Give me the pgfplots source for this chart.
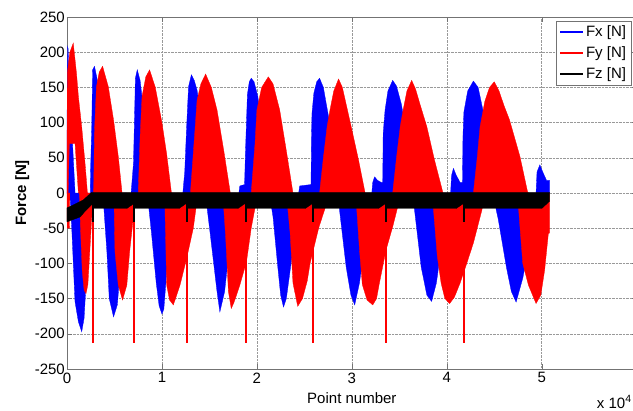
\documentclass[border=0pt]{standalone}
\usepackage{pgfplots}
\pgfplotsset{compat=1.18}
\usepackage{fontspec}
\setmainfont{Liberation Sans}
\newcommand\fs{\fontsize{15}{18}\selectfont}

\pgfplotsset{
  fx/.style={draw=blue, fill=blue, line width=0.3pt, forget plot},
  fy/.style={draw=red, fill=red, line width=0.3pt, forget plot},
}

\begin{document}
\begin{tikzpicture}
\begin{axis}[
  name=ax,
  scale only axis, width=569.7pt, height=352pt,
  xmin=0, xmax=6, ymin=-250, ymax=250,
  xtick={0,1,2,3,4,5},
  ytick={-250,-200,-150,-100,-50,0,50,100,150,200,250},
  tick align=inside, major tick length=5pt,
  grid=major, grid style={densely dotted, black!40, line width=0.6pt},
  axis line style={black!55}, every tick/.style={black!55},
  tick label style={font=\fs},
  /pgf/number format/assume math mode=true,
  yticklabel style={inner xsep=2pt},
  xlabel={Point number}, ylabel={\bfseries Force [N]},
  label style={font=\fs},
  xlabel style={yshift=-3pt},
  legend style={at={(axis cs:5.155,244.7)}, anchor=north west,
    draw=black!55, fill=white, font=\fs, inner xsep=3pt, inner ysep=3pt,
    row sep=4.5pt},
  legend cell align=left,
  legend image code/.code={\draw[#1, line width=1.4pt] (0pt,0pt) -- (23pt,0pt);},
]
% ---- Fx (blue): band between upper and lower envelope of each lobe
\addplot[fx] coordinates {(0,0) (0.002,150) (0.006,208) (0.012,205) (0.02,170) (0.035,120) (0.06,66) (0.085,0)} -- cycle;
\addplot[fx] coordinates {(0.03,0) (0.05,-50) (0.084,-154) (0.12,-183) (0.155,-197) (0.18,-178) (0.2,-130) (0.23,-60) (0.25,0)} -- cycle;
\addplot[fx] coordinates {(0.245,0) (0.25,42) (0.26,90) (0.27,175) (0.29,180) (0.32,160) (0.35,120) (0.40,60) (0.44,0)} -- cycle;
\addplot[fx] coordinates {(0.37,0) (0.38,-5) (0.42,-83) (0.445,-150) (0.49,-176) (0.53,-159) (0.56,-110) (0.60,-50) (0.63,0)} -- cycle;
\addplot[fx] coordinates {(0.675,0) (0.70,42) (0.716,137) (0.72,163) (0.74,175) (0.77,160) (0.80,125) (0.85,60) (0.90,0)} -- cycle;
\addplot[fx] coordinates {(0.85,0) (0.86,-19) (0.89,-57) (0.94,-128) (0.97,-160) (1.0,-172) (1.02,-165) (1.04,-130) (1.08,-60) (1.12,0)} -- cycle;
\addplot[fx] coordinates {(1.22,0) (1.24,30) (1.26,94) (1.28,151) (1.31,168) (1.34,160) (1.37,146) (1.42,100) (1.48,40) (1.52,0)} -- cycle;
\addplot[fx] coordinates {(1.46,0) (1.47,-15) (1.51,-60) (1.58,-140) (1.61,-169) (1.66,-140) (1.70,-90) (1.74,-40) (1.78,0)} -- cycle;
\addplot[fx] coordinates {(1.81,0) (1.82,10) (1.87,12) (1.88,60) (1.90,140) (1.92,158) (1.94,163) (1.97,158) (2.01,137) (2.06,90) (2.12,30) (2.15,0)} -- cycle;
\addplot[fx] coordinates {(2.13,0) (2.17,-34) (2.22,-105) (2.25,-145) (2.28,-162) (2.31,-150) (2.36,-100) (2.42,-40) (2.46,0)} -- cycle;
\addplot[fx] coordinates {(2.44,0) (2.45,10) (2.57,12) (2.575,80) (2.58,113) (2.60,142) (2.63,158) (2.66,163) (2.70,150) (2.73,127) (2.78,90) (2.84,40) (2.88,0)} -- cycle;
\addplot[fx] coordinates {(2.86,0) (2.87,-24) (2.94,-105) (2.99,-145) (3.03,-159) (3.08,-128) (3.13,-80) (3.19,-30) (3.23,0)} -- cycle;
\addplot[fx] coordinates {(3.21,0) (3.22,15) (3.24,23) (3.27,18) (3.31,15) (3.325,15) (3.33,85) (3.35,118) (3.38,145) (3.43,160) (3.47,152) (3.52,127) (3.57,90) (3.63,40) (3.67,0)} -- cycle;
\addplot[fx] coordinates {(3.64,0) (3.66,-24) (3.73,-105) (3.79,-145) (3.84,-154) (3.89,-128) (3.94,-80) (4.00,-30) (4.04,0)} -- cycle;
\addplot[fx] coordinates {(4.04,0) (4.05,25) (4.07,35) (4.10,25) (4.14,15) (4.165,15) (4.17,80) (4.18,115) (4.22,145) (4.28,159) (4.33,150) (4.38,118) (4.44,80) (4.50,30) (4.55,0)} -- cycle;
\addplot[fx] coordinates {(4.50,0) (4.52,-24) (4.54,-36) (4.63,-107) (4.68,-140) (4.73,-155) (4.80,-121) (4.86,-80) (4.92,-30) (4.95,0)} -- cycle;
\addplot[fx] coordinates {(4.94,0) (4.95,30) (4.98,40) (5.01,30) (5.05,18) (5.08,18) (5.08,0)} -- cycle;
% ---- Fy (red)
\addplot[fy] coordinates {(0,0) (0.003,170) (0.03,200) (0.066,213) (0.10,170) (0.12,137) (0.155,94) (0.19,42) (0.21,9) (0.215,0) (0.12,0) (0.085,70) (0.025,70) (0.012,0)} -- cycle;
\addplot[fy] coordinates {(0,0) (0.002,-50) (0.025,-50) (0.03,0)} -- cycle;
\addplot[fy] coordinates {(0.13,0) (0.145,-60) (0.16,-110) (0.18,-138) (0.20,-143) (0.22,-130) (0.24,-83) (0.26,-36) (0.28,0)} -- cycle;
\addplot[fy] coordinates {(0.28,0) (0.29,90) (0.31,151) (0.34,172) (0.375,180) (0.435,151) (0.49,104) (0.54,52) (0.58,0)} -- cycle;
\addplot[fy] coordinates {(0.49,0) (0.495,-8) (0.505,-83) (0.54,-131) (0.585,-152) (0.63,-131) (0.66,-83) (0.705,-27) (0.716,0)} -- cycle;
\addplot[fy] coordinates {(0.75,0) (0.77,80) (0.79,137) (0.83,165) (0.87,175) (0.93,150) (1.0,100) (1.05,55) (1.10,0)} -- cycle;
\addplot[fy] coordinates {(1.01,0) (1.03,-12) (1.05,-131) (1.08,-152) (1.12,-159) (1.19,-131) (1.26,-93) (1.33,-50) (1.38,0)} -- cycle;
\addplot[fy] coordinates {(1.30,0) (1.35,94) (1.37,132) (1.41,155) (1.46,169) (1.52,150) (1.58,118) (1.65,61) (1.72,0)} -- cycle;
\addplot[fy] coordinates {(1.64,0) (1.67,-60) (1.70,-140) (1.73,-164) (1.76,-155) (1.82,-131) (1.89,-98) (1.94,-50) (2.01,0)} -- cycle;
\addplot[fy] coordinates {(1.94,0) (1.98,70) (2.00,118) (2.05,150) (2.12,165) (2.17,155) (2.24,118) (2.31,60) (2.38,0)} -- cycle;
\addplot[fy] coordinates {(2.31,0) (2.35,-57) (2.38,-128) (2.43,-161) (2.48,-150) (2.53,-125) (2.56,-100) (2.65,-50) (2.77,0)} -- cycle;
\addplot[fy] coordinates {(2.66,0) (2.70,50) (2.74,95) (2.77,118) (2.81,145) (2.86,162) (2.90,150) (2.95,120) (3.00,90) (3.07,47) (3.14,0)} -- cycle;
\addplot[fy] coordinates {(3.04,0) (3.08,-80) (3.11,-130) (3.16,-152) (3.22,-159) (3.26,-150) (3.29,-128) (3.36,-81) (3.43,-48) (3.52,0)} -- cycle;
\addplot[fy] coordinates {(3.43,0) (3.47,50) (3.51,95) (3.54,118) (3.58,145) (3.63,160) (3.67,148) (3.72,125) (3.79,94) (3.87,47) (3.96,0)} -- cycle;
\addplot[fy] coordinates {(3.84,0) (3.86,-24) (3.90,-90) (3.94,-128) (3.98,-150) (4.03,-157) (4.08,-148) (4.14,-128) (4.21,-100) (4.28,-71) (4.37,-24) (4.40,0)} -- cycle;
\addplot[fy] coordinates {(4.28,0) (4.32,50) (4.35,94) (4.40,130) (4.45,150) (4.50,158) (4.55,145) (4.60,125) (4.66,104) (4.77,52) (4.85,2) (4.86,0)} -- cycle;
\addplot[fy] coordinates {(4.74,0) (4.75,-12) (4.80,-100) (4.86,-131) (4.94,-157) (4.99,-145) (5.03,-110) (5.07,-57) (5.08,-57) (5.08,0)} -- cycle;
% red spikes
\addplot[ycomb, red, line width=2pt, forget plot] coordinates {(0.27,-213) (0.71,-213) (1.26,-213) (1.88,-213) (2.59,-213) (3.36,-213) (4.18,-213)};
% ---- Fz (black)
\addplot[draw=black, fill=black, line width=0.3pt, forget plot] coordinates {
  (0,-41) (0.14,-34) (0.19,-26) (0.22,-22) (0.265,-16) (0.275,-22)
  (0.63,-22) (0.705,-15) (0.715,-22) (1.18,-22) (1.255,-15) (1.265,-22)
  (1.80,-22) (1.875,-15) (1.885,-22) (2.51,-22) (2.585,-15) (2.595,-22)
  (3.28,-22) (3.355,-15) (3.365,-22) (4.10,-22) (4.175,-15) (4.185,-22)
  (5.0,-22) (5.08,-12) (5.08,1) (0.26,1) (0.17,-10) (0.05,-18) (0,-21)} -- cycle;
\addplot[ycomb, black, line width=2pt, forget plot] coordinates {(0.27,-41) (0.71,-41) (1.26,-41) (1.88,-41) (2.59,-41) (3.36,-41) (4.18,-41)};
\addlegendimage{blue}\addlegendentry{Fx [N]}
\addlegendimage{red}\addlegendentry{Fy [N]}
\addlegendimage{black}\addlegendentry{Fz [N]}
\end{axis}
\node[anchor=west, inner sep=0pt, font=\fs] at ([xshift=-40pt,yshift=-33pt]ax.south east) {x 10\textsuperscript{4}};
\pgfresetboundingbox
\useasboundingbox ([xshift=-67pt,yshift=-41pt]ax.south west) rectangle ([xshift=-3.7pt,yshift=17pt]ax.north east);
\end{tikzpicture}
\end{document}
